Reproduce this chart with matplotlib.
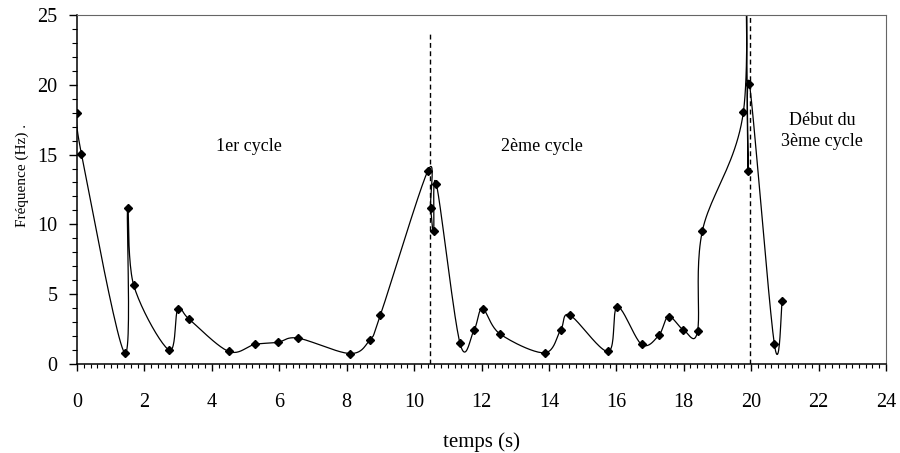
import numpy as np
import matplotlib
matplotlib.use("Agg")
import matplotlib.pyplot as plt
from matplotlib.ticker import MultipleLocator

plt.rcParams['font.family'] = ['Liberation Serif', 'DejaVu Serif']

# measured points (s, Hz); one point above 25 Hz is clipped by the axis
temps = [0.0, 0.13, 1.41, 1.50, 1.68, 2.73, 2.99, 3.33, 4.50, 5.27, 5.95, 6.56,
         8.10, 8.69, 9.00, 10.41, 10.49, 10.58, 10.66, 11.36, 11.78, 12.03, 12.55,
         13.87, 14.35, 14.62, 15.76, 16.03, 16.75, 17.26, 17.55, 17.99, 18.41,
         18.55, 19.77, 19.82, 19.91, 19.95, 20.69, 20.92]
freq = [18.0, 15.05, 0.8, 11.2, 5.65, 1.0, 3.95, 3.2, 0.9, 1.4, 1.55, 1.85,
        0.75, 1.75, 3.5, 13.85, 11.2, 9.5, 12.9, 1.5, 2.45, 3.95, 2.15,
        0.8, 2.45, 3.5, 0.9, 4.1, 1.4, 2.05, 3.4, 2.45, 2.35,
        9.5, 18.05, 32.0, 13.85, 20.05, 1.4, 4.5]

cycle_limits = [10.47, 19.97]
cycle_tops = [23.7, 25.0]
labels = ["1er cycle", "2ème cycle", "Début du\n3ème cycle"]
label_x = [5.1, 13.8, 22.1]
label_y = [15.6, 15.6, 16.7]


def smooth(x, y, n=24, yscale=0.415):
    """Catmull-Rom curve through the points (like Excel's smoothed line)."""
    p = np.column_stack([np.asarray(x, float), np.asarray(y, float) * yscale])
    p = np.vstack([p[0], p, p[-1]])
    out = []
    t = np.linspace(0, 1, n)[:, None]
    for i in range(1, len(p) - 2):
        p0, p1, p2, p3 = p[i - 1], p[i], p[i + 1], p[i + 2]
        c1 = p1 + (p2 - p0) / 6
        c2 = p2 - (p3 - p1) / 6
        seg = ((1 - t) ** 3) * p1 + 3 * ((1 - t) ** 2) * t * c1 \
            + 3 * (1 - t) * t ** 2 * c2 + t ** 3 * p2
        out.append(seg)
    out = np.vstack(out)
    return out[:, 0], out[:, 1] / yscale


fig = plt.figure(figsize=(9, 4.53), dpi=100)
ax = fig.add_axes([0.0856, 0.1965, 0.8988, 0.7705])

sx, sy = smooth(temps, freq)
ax.plot(sx, sy, color='black', lw=0.9)
ax.plot(temps, freq, linestyle='none', marker='D', markersize=4.2, color='black')

for xc, top in zip(cycle_limits, cycle_tops):
    ax.plot([xc, xc], [0, top], color='black', lw=1, linestyle=(0, (3.5, 2.5)))

for txt, lx, ly in zip(labels, label_x, label_y):
    ax.text(lx, ly, txt, ha='center', va='center', fontsize=13, linespacing=1.35)

ax.set_xlim(0, 24)
ax.set_ylim(0, 25)
ax.xaxis.set_major_locator(MultipleLocator(2))
ax.xaxis.set_minor_locator(MultipleLocator(0.2))
ax.yaxis.set_major_locator(MultipleLocator(5))
ax.yaxis.set_minor_locator(MultipleLocator(1))
ax.tick_params(axis='x', which='major', length=5, width=1, pad=16, labelsize=14.5)
ax.tick_params(axis='x', which='minor', length=3, width=0.8)
ax.tick_params(axis='y', which='major', length=6, width=1, pad=8, labelsize=14.5)
ax.tick_params(axis='y', which='minor', length=3.5, width=0.8)

for side in ['top', 'right']:
    ax.spines[side].set_color('#666666')
ax.spines['left'].set_linewidth(1.1)
ax.spines['bottom'].set_linewidth(1.1)

ax.set_xlabel('temps (s)', fontsize=15)
ax.xaxis.set_label_coords(0.5, -0.195)
ax.set_ylabel('Fréquence (Hz) .', fontsize=11)
ax.yaxis.set_label_coords(-0.06, 0.54)

fig.savefig('out.png', dpi=100)
